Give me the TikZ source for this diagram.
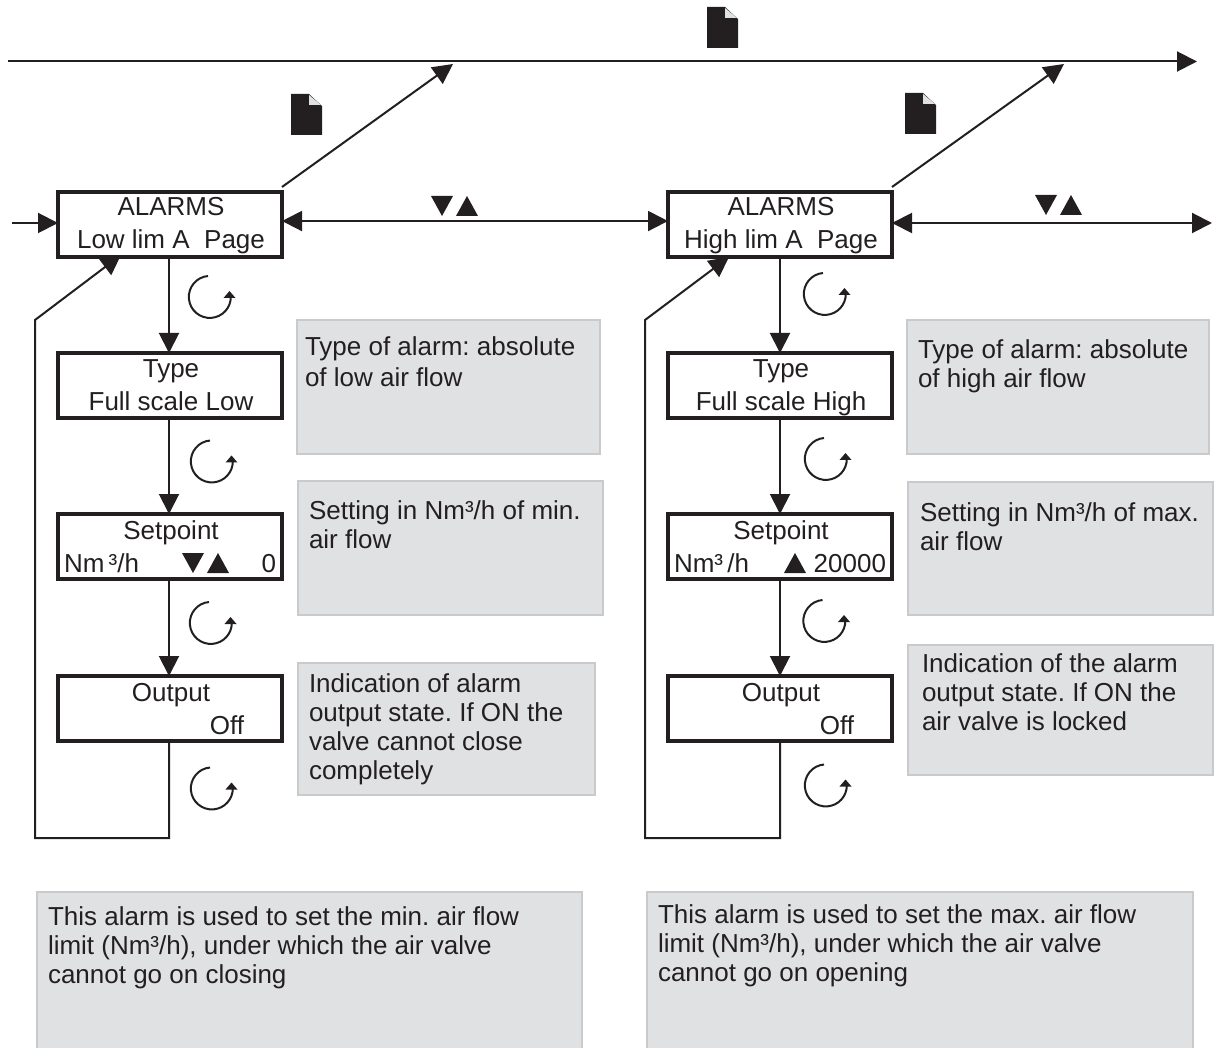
\documentclass[tikz,border=0pt]{standalone}
\usepackage{fontspec}
\setmainfont{Liberation Sans}
\usetikzlibrary{arrows.meta}
\definecolor{ink}{HTML}{231F20}
\definecolor{panel}{HTML}{E0E1E3}
\definecolor{panelline}{HTML}{C9CACC}
\tikzset{
  x=0.75pt,y=-0.75pt,
  every node/.style={inner sep=0pt,outer sep=0pt,text=ink},
  lbl/.style={font=\fontsize{19.5}{21.75}\selectfont},
  para/.style={lbl,align=left,anchor=north west},
  screen/.style={draw=ink,line width=2.6pt,minimum width=168pt,minimum height=48.75pt,anchor=north west},
  panelbox/.style={draw=panelline,fill=panel,line width=1.1pt,anchor=north west},
  conn/.style={draw=ink,line width=1.5pt,-{Triangle[length=15pt,width=15pt]}},
  biconn/.style={draw=ink,line width=1.5pt,{Triangle[length=15pt,width=15pt]}-{Triangle[length=15pt,width=15pt]}},
  pics/cycle/.style={code={
    \draw[ink,line width=1.5pt] (-1,-21) arc[start angle=-95,end angle=-360,radius=21];
    \fill[ink] (20.5,-6)--(26.5,1)--(14.5,1)--cycle;
  }},
  pics/docicon/.style={code={
    \fill[ink] (0,0)--(18,0)--(31,12)--(31,41)--(0,41)--cycle;
    \fill[panel] (18,1)--(30,11)--(18,11)--cycle;
  }},
  pics/trdown/.style={code={\fill[ink] (0,0)--(22,0)--(11,20)--cycle;}},
  pics/trup/.style={code={\fill[ink] (0,20)--(22,20)--(11,0)--cycle;}},
}
\newcommand{\pbox}[5]{\node[panelbox,minimum width=#4*0.75pt,minimum height=#5*0.75pt] (#1) at (#2,#3) {};}
\begin{document}
\frenchspacing
\begin{tikzpicture}
\useasboundingbox (0,0) rectangle (1214,1048);
% panels
\pbox{pa}{297}{320}{303}{134}
\pbox{pb}{298}{481}{305}{134}
\pbox{pc}{298}{663}{297}{132}
\pbox{pd}{907}{320}{302}{134}
\pbox{pe}{908}{482}{305}{133}
\pbox{pf}{908}{645}{305}{130}
\pbox{pg}{37}{892}{545}{158}
\pbox{ph}{647}{892}{546}{158}
\node[para] (ta) at (305,337) {Type of alarm: absolute\\[1.5pt]of low air flow};
\node[para] (tb) at (309,501) {Setting in Nm³/h of min.\\air flow};
\node[para] (tc) at (309,674) {Indication of alarm\\output state. If ON the\\valve cannot close\\completely};
\node[para] (td) at (918,340) {Type of alarm: absolute\\of high air flow};
\node[para] (te) at (920,503) {Setting in Nm³/h of max.\\air flow};
\node[para] (tf) at (922,654) {Indication of the alarm\\output state. If ON the\\air valve is locked};
\node[para] (tg) at (48,907) {This alarm is used to set the min. air flow\\limit (Nm³/h), under which the air valve\\cannot go on closing};
\node[para] (th) at (658,905) {This alarm is used to set the max. air flow\\limit (Nm³/h), under which the air valve\\cannot go on opening};
% screens
\node[screen] (la) at (58,192) {};
\node[screen] (lb) at (58,353) {};
\node[screen] (lc) at (58,514) {};
\node[screen] (ld) at (58,676) {};
\node[screen] (ra) at (668,192) {};
\node[screen] (rb) at (668,353) {};
\node[screen] (rc) at (668,514) {};
\node[screen] (rd) at (668,676) {};
% screen texts
\node[lbl,anchor=base] (la1) at (171,216) {ALARMS};
\node[lbl,anchor=base] (la2) at (171,249) {Low lim A\ \ Page};
\node[lbl,anchor=base] (lb1) at (171,378) {Type};
\node[lbl,anchor=base] (lb2) at (171,411) {Full scale Low};
\node[lbl,anchor=base] (lc1) at (171,539) {Setpoint};
\node[lbl,anchor=base west] (lc2) at (64,572) {Nm\,³/h};
\node[lbl,anchor=base east] (lc3) at (276,572) {0};
\node[lbl,anchor=base] (ld1) at (171,701) {Output};
\node[lbl,anchor=base east] (ld2) at (244,734) {Off};
\node[lbl,anchor=base] (ra1) at (781,216) {ALARMS};
\node[lbl,anchor=base] (ra2) at (781,249) {High lim A\ \ Page};
\node[lbl,anchor=base] (rb1) at (781,378) {Type};
\node[lbl,anchor=base] (rb2) at (781,411) {Full scale High};
\node[lbl,anchor=base] (rc1) at (781,539) {Setpoint};
\node[lbl,anchor=base west] (rc2) at (674,572) {Nm³\,/h};
\node[lbl,anchor=base east] (rc3) at (886,572) {20000};
\node[lbl,anchor=base] (rd1) at (781,701) {Output};
\node[lbl,anchor=base east] (rd2) at (854,734) {Off};
% free ends
\coordinate (topstart) at (8,61.5);
\coordinate (topend) at (1197,61.5);
\coordinate (leftin) at (12,223);
\coordinate (rightout) at (1212,223);
\coordinate (ldiag) at (453,64);
\coordinate (rdiag) at (1064,64);
\coordinate (lcorner) at (282,187);
\coordinate (rcorner) at (892,187);
\coordinate (lturn1) at (169,838);
\coordinate (lturn2) at (35,838);
\coordinate (lturn3) at (35,320);
\coordinate (lback) at (121,255);
\coordinate (rturn1) at (780,838);
\coordinate (rturn2) at (645,838);
\coordinate (rturn3) at (645,320);
\coordinate (rback) at (729,257);
% connectors
\draw[conn] (topstart) -- (topend);
\draw[conn] (lcorner) -- (ldiag);
\draw[conn] (rcorner) -- (rdiag);
\draw[conn] (leftin) -- (la.west |- leftin);
\draw[biconn] ([yshift=2.6pt]la.east) -- ([yshift=2.6pt]ra.west);
\draw[biconn] (ra.east |- rightout) -- (rightout);
\draw[conn] (la.south -| lturn1) -- (lb.north -| lturn1);
\draw[conn] (lb.south -| lturn1) -- (lc.north -| lturn1);
\draw[conn] (lc.south -| lturn1) -- (ld.north -| lturn1);
\draw[conn] (ra.south -| rturn1) -- (rb.north -| rturn1);
\draw[conn] (rb.south -| rturn1) -- (rc.north -| rturn1);
\draw[conn] (rc.south -| rturn1) -- (rd.north -| rturn1);
\draw[conn] (ld.south -| lturn1) -- (lturn1) -- (lturn2) -- (lturn3) -- (lback);
\draw[conn] (rd.south -| rturn1) -- (rturn1) -- (rturn2) -- (rturn3) -- (rback);
% icons
\pic at (291,94) {docicon};
\pic at (905,93) {docicon};
\pic at (707,7) {docicon};
\pic at (431,196) {trdown};
\pic at (456,196) {trup};
\pic at (1035,195) {trdown};
\pic at (1060,195) {trup};
\pic at (182,553) {trdown};
\pic at (207,553) {trup};
\pic at (784,553) {trup};
\pic at (209,297) {cycle};
\pic at (211,461.5) {cycle};
\pic at (210,623) {cycle};
\pic at (211,788.5) {cycle};
\pic at (824,294) {cycle};
\pic at (825,459) {cycle};
\pic at (823.5,621) {cycle};
\pic at (825,785.5) {cycle};
\end{tikzpicture}
\end{document}
